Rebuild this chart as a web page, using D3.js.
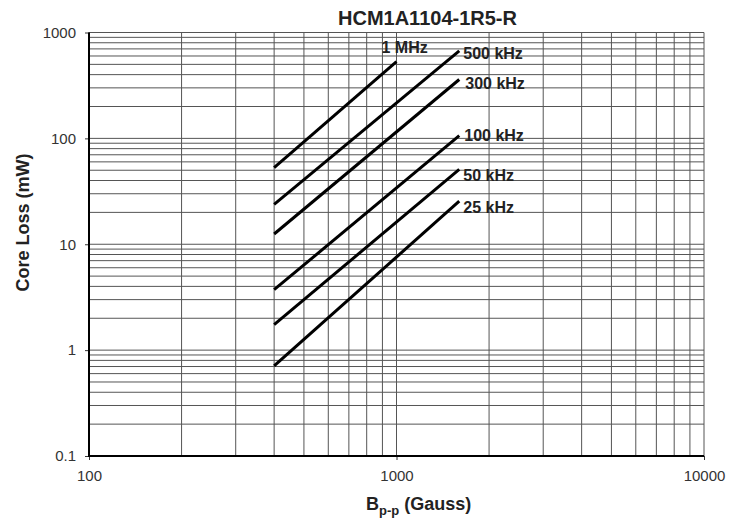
<!DOCTYPE html>
<html>
<head>
<meta charset="utf-8">
<script src="https://cdn.jsdelivr.net/npm/d3@7"></script>
<style>
  body { margin: 0; background: #fff; }
  svg { display: block; font-family: "Liberation Sans", Arial, sans-serif; }
</style>
</head>
<body>
<svg id="chart" width="747" height="518"></svg>
<script>
// ---- data ----
const seriesNames = ["1 MHz", "500 kHz", "300 kHz", "100 kHz", "50 kHz", "25 kHz"];
const fluxStart = [400, 400, 400, 400, 400, 400];
const fluxEnd   = [1000, 1600, 1600, 1600, 1600, 1600];
const lossStart = [53, 23.8, 12.5, 3.72, 1.74, 0.71];
const lossEnd   = [530, 670, 360, 106, 51, 25.5];
const xTicks = [100, 1000, 10000];
const yTicks = [0.1, 1, 10, 100, 1000];
const xTickLabels = ["100", "1000", "10000"];
const yTickLabels = ["0.1", "1", "10", "100", "1000"];

// label placement (layout): offset from curve end in px
const labelDx = [-15, 4, 6, 5, 4, 4];
const labelDy = [-9, 7.6, 9.7, 5, 11.7, 11.3];

const svg = d3.select("#chart");
const L = 89, R = 704, T = 32.5, B = 456;
const x = d3.scaleLog().domain([100, 10000]).range([L, R]);
const y = d3.scaleLog().domain([0.1, 1000]).range([B, T]);

// grid
const xGrid = [];
for (let d = 100; d < 10000; d *= 10) for (let k = 1; k <= 10; k++) xGrid.push(d * k);
const yGrid = [];
for (let d = 0.1; d < 1000; d *= 10) for (let k = 1; k <= 10; k++) yGrid.push(+(d * k).toPrecision(3));

const g = svg.append("g");
g.selectAll(".vg").data(Array.from(new Set(xGrid))).join("line")
  .attr("x1", d => x(d)).attr("x2", d => x(d)).attr("y1", T).attr("y2", B)
  .attr("stroke", "#555").attr("stroke-width", 1);
g.selectAll(".hg").data(Array.from(new Set(yGrid))).join("line")
  .attr("x1", L).attr("x2", R).attr("y1", d => y(d)).attr("y2", d => y(d))
  .attr("stroke", "#555").attr("stroke-width", 1);

// axes
const yAxis = d3.axisLeft(y).tickValues(yTicks).tickFormat((d, i) => yTickLabels[i]).tickSize(4).tickPadding(9);
const xAxis = d3.axisBottom(x).tickValues(xTicks).tickFormat((d, i) => xTickLabels[i]).tickSize(4).tickPadding(10);

const ya = svg.append("g").attr("transform", `translate(${L},0)`).call(yAxis);
const xa = svg.append("g").attr("transform", `translate(0,${B})`).call(xAxis);
[ya, xa].forEach(a => {
  a.select(".domain").remove();
  a.selectAll(".tick line").attr("stroke", "#333").attr("stroke-width", 1);
  a.selectAll(".tick text").attr("fill", "#333").style("font-size", "15px")
    .style("font-family", "'Liberation Sans', Arial, sans-serif");
});

// axis lines
svg.append("line").attr("x1", L).attr("x2", L).attr("y1", T).attr("y2", B + 1)
  .attr("stroke", "#000").attr("stroke-width", 2);
svg.append("line").attr("x1", L - 1).attr("x2", R).attr("y1", B).attr("y2", B)
  .attr("stroke", "#000").attr("stroke-width", 2);

// curves
const line = d3.line().x(d => x(d[0])).y(d => y(d[1]));
const curves = seriesNames.map((n, i) => ({
  name: n,
  pts: [[fluxStart[i], lossStart[i]], [fluxEnd[i], lossEnd[i]]]
}));
svg.selectAll(".curve").data(curves).join("path")
  .attr("d", d => line(d.pts))
  .attr("fill", "none").attr("stroke", "#000").attr("stroke-width", 3);

// curve labels
svg.selectAll(".clab").data(curves).join("text")
  .attr("x", (d, i) => x(fluxEnd[i]) + labelDx[i])
  .attr("y", (d, i) => y(lossEnd[i]) + labelDy[i])
  .attr("font-size", "16px").attr("font-weight", "bold").attr("fill", "#222")
  .text(d => d.name);

// title
svg.append("text").attr("x", 338).attr("y", 25)
  .attr("font-size", "20px").attr("font-weight", "bold").attr("fill", "#222")
  .text("HCM1A1104-1R5-R");

// y label
svg.append("text").attr("transform", "translate(29,222.5) rotate(-90)")
  .attr("text-anchor", "middle").attr("font-size", "18px").attr("font-weight", "bold").attr("fill", "#222")
  .text("Core Loss (mW)");

// x label
const xl = svg.append("text").attr("x", 366).attr("y", 510)
  .attr("font-size", "18px").attr("font-weight", "bold").attr("fill", "#222");
xl.append("tspan").text("B");
xl.append("tspan").attr("font-size", "13px").attr("dy", 5).text("p-p");
xl.append("tspan").attr("dy", -5).text(" (Gauss)");
</script>
</body>
</html>
